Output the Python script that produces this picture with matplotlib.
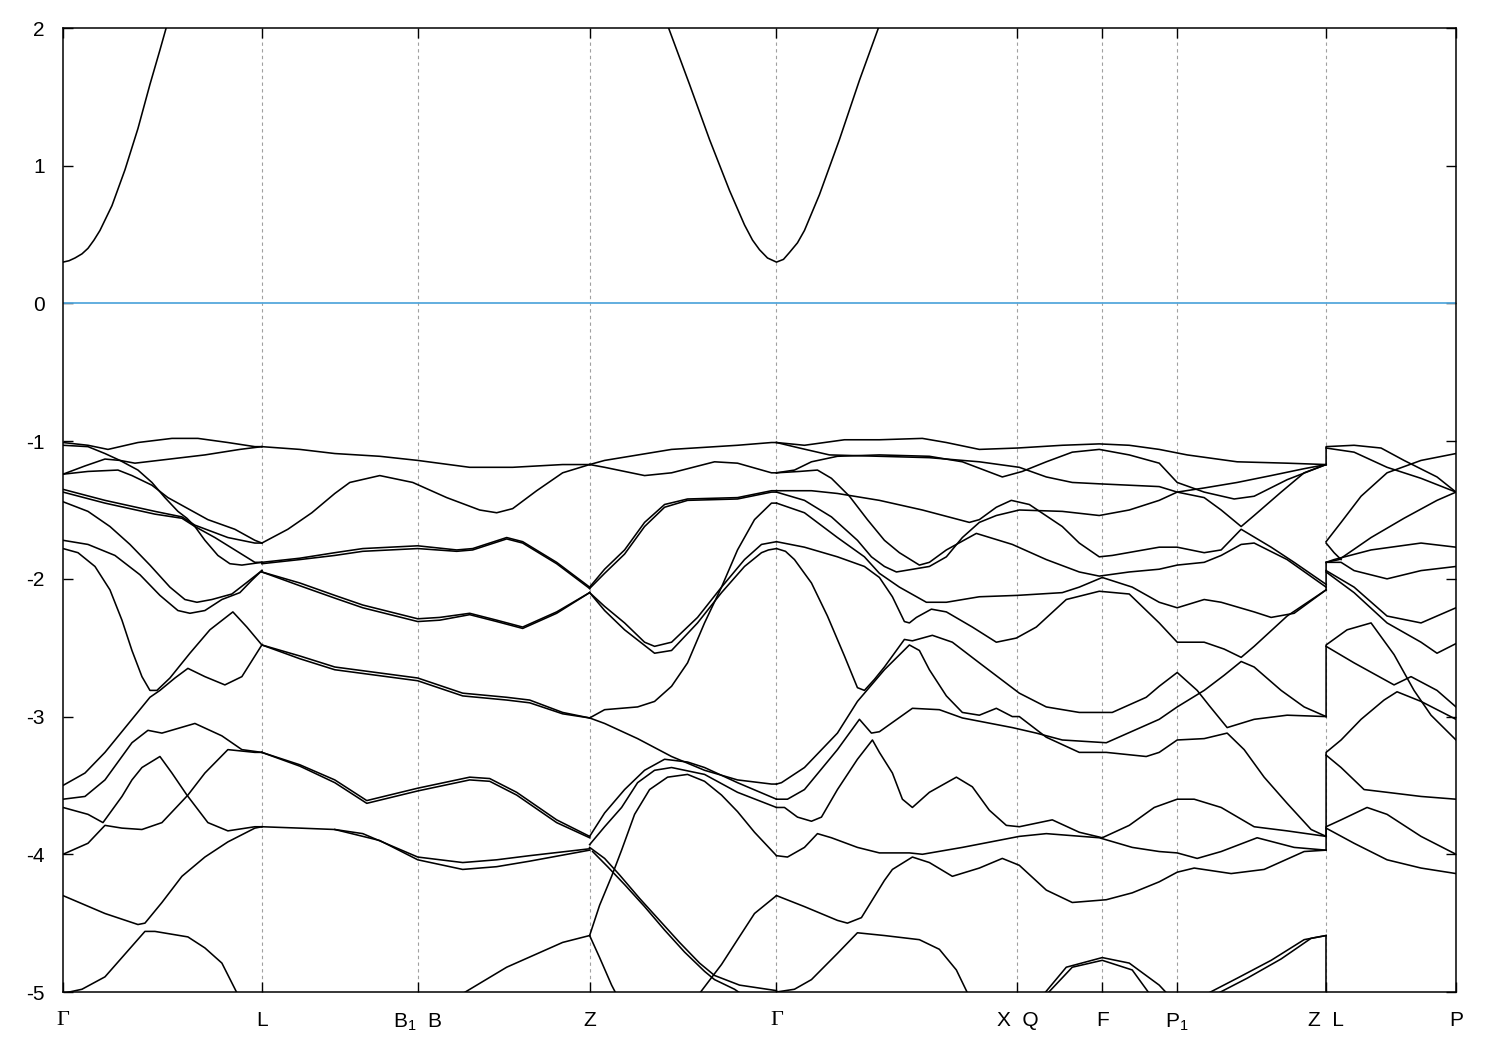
import matplotlib
matplotlib.use("Agg")
import matplotlib.pyplot as plt

plt.rcParams['font.family'] = ['Liberation Sans', 'DejaVu Sans']
plt.rcParams['mathtext.fontset'] = 'custom'
plt.rcParams['mathtext.rm'] = 'Liberation Sans'
plt.rcParams['mathtext.it'] = 'Liberation Sans'

# high symmetry points along the k path
kpoints = [0.0, 1.99, 3.55, 5.27, 7.14, 9.55, 10.40, 11.15, 12.64, 13.94]
klabels = ['Γ', 'L', 'B$_1$  B', 'Z', 'Γ', 'X  Q', 'F', 'P$_1$', 'Z  L', 'P']
yticks = [-5, -4, -3, -2, -1, 0, 1, 2]

# conduction bands (k, E)
conduction = [
    [(0, 0.30), (0.06, 0.31), (0.12, 0.33), (0.19, 0.36), (0.25, 0.40), (0.31, 0.46), (0.37, 0.53),
     (0.49, 0.71), (0.62, 0.97), (0.75, 1.27), (0.87, 1.59), (0.97, 1.84), (1.04, 2.02)],
    [(6.05, 2.02), (6.27, 1.59), (6.47, 1.19), (6.67, 0.82), (6.82, 0.57), (6.90, 0.46),
     (6.97, 0.39), (7.05, 0.33), (7.14, 0.30), (7.21, 0.32), (7.27, 0.37), (7.35, 0.44),
     (7.42, 0.53), (7.57, 0.79), (7.77, 1.19), (7.97, 1.62), (8.17, 2.02)],
]

# valence bands, Gamma -> L
gamma_L = [
    [(0, -1.01), (0.25, -1.03), (0.45, -1.06), (0.75, -1.01), (1.09, -0.98), (1.35, -0.98),
     (1.65, -1.01), (1.92, -1.04), (1.99, -1.04)],
    [(0, -1.03), (0.25, -1.04), (0.42, -1.09), (0.57, -1.14), (0.75, -1.21), (0.89, -1.30),
     (1.02, -1.41), (1.15, -1.51), (1.24, -1.56), (1.32, -1.62), (1.42, -1.72), (1.55, -1.83),
     (1.67, -1.89), (1.79, -1.90), (1.99, -1.88)],
    [(0, -1.24), (0.22, -1.18), (0.42, -1.13), (0.57, -1.14), (0.72, -1.16), (1.07, -1.13),
     (1.42, -1.10), (1.77, -1.06), (1.99, -1.04)],
    [(0, -1.24), (0.25, -1.22), (0.55, -1.21), (0.69, -1.25), (0.89, -1.32), (1.05, -1.41),
     (1.25, -1.49), (1.45, -1.57), (1.72, -1.64), (1.92, -1.72), (1.99, -1.74)],
    [(0, -1.35), (0.42, -1.43), (0.92, -1.51), (1.19, -1.55), (1.32, -1.61), (1.65, -1.70),
     (1.92, -1.74), (1.99, -1.74)],
    [(0, -1.37), (0.42, -1.45), (0.92, -1.53), (1.19, -1.56), (1.32, -1.62), (1.52, -1.70),
     (1.72, -1.79), (1.92, -1.88), (1.99, -1.88)],
    [(0, -1.44), (0.25, -1.51), (0.47, -1.62), (0.67, -1.75), (0.87, -1.90), (1.07, -2.06),
     (1.22, -2.15), (1.34, -2.17), (1.49, -2.15), (1.69, -2.11), (1.85, -2.02), (1.99, -1.94)],
    [(0, -1.72), (0.25, -1.75), (0.52, -1.83), (0.77, -1.97), (0.97, -2.12), (1.15, -2.23),
     (1.27, -2.25), (1.42, -2.23), (1.59, -2.15), (1.77, -2.10), (1.89, -2.01), (1.99, -1.94)],
    [(0, -1.78), (0.15, -1.81), (0.32, -1.91), (0.47, -2.08), (0.59, -2.30), (0.69, -2.52),
     (0.79, -2.71), (0.87, -2.81), (0.94, -2.81), (1.07, -2.72), (1.27, -2.54), (1.47, -2.37),
     (1.70, -2.24), (1.84, -2.35), (1.99, -2.48)],
    [(0, -3.50), (0.22, -3.41), (0.42, -3.26), (0.69, -3.02), (0.87, -2.86), (0.97, -2.81),
     (1.12, -2.72), (1.25, -2.65), (1.42, -2.71), (1.62, -2.77), (1.79, -2.71), (1.99, -2.48)],
    [(0, -3.60), (0.22, -3.58), (0.42, -3.46), (0.69, -3.19), (0.85, -3.10), (0.99, -3.12),
     (1.32, -3.05), (1.59, -3.14), (1.79, -3.24), (1.99, -3.26)],
    [(0, -3.66), (0.25, -3.71), (0.40, -3.77), (0.59, -3.58), (0.69, -3.46), (0.79, -3.37),
     (0.97, -3.29), (1.09, -3.41), (1.24, -3.57), (1.45, -3.77), (1.65, -3.83), (1.92, -3.80),
     (1.99, -3.80)],
    [(0, -4.00), (0.25, -3.92), (0.42, -3.79), (0.59, -3.81), (0.79, -3.82), (0.99, -3.77),
     (1.25, -3.57), (1.42, -3.41), (1.65, -3.24), (1.92, -3.26), (1.99, -3.26)],
    [(0, -4.30), (0.42, -4.43), (0.75, -4.51), (0.82, -4.50), (0.99, -4.35), (1.19, -4.16),
     (1.42, -4.02), (1.65, -3.91), (1.92, -3.81), (1.99, -3.80)],
    [(0, -5.01), (0.19, -4.98), (0.42, -4.89), (0.82, -4.56), (0.92, -4.56), (1.25, -4.60),
     (1.42, -4.68), (1.59, -4.79), (1.75, -5.02)],
]

# L -> B1|B -> Z
L_Z = [
    [(1.99, -1.04), (2.37, -1.06), (2.72, -1.09), (3.17, -1.11), (3.55, -1.14), (4.07, -1.19),
     (4.50, -1.19), (5.00, -1.17), (5.27, -1.17)],
    [(1.99, -1.74), (2.25, -1.64), (2.49, -1.52), (2.72, -1.38), (2.87, -1.30), (3.17, -1.25),
     (3.50, -1.30), (3.84, -1.41), (4.17, -1.50), (4.34, -1.52), (4.50, -1.49), (4.74, -1.36),
     (5.00, -1.23), (5.27, -1.17)],
    [(1.99, -1.88), (2.37, -1.85), (2.72, -1.81), (3.00, -1.78), (3.55, -1.76), (3.94, -1.79),
     (4.10, -1.78), (4.44, -1.70), (4.60, -1.73), (4.94, -1.88), (5.27, -2.06)],
    [(1.99, -1.89), (2.37, -1.86), (2.72, -1.83), (3.00, -1.80), (3.55, -1.78), (3.94, -1.80),
     (4.10, -1.79), (4.44, -1.71), (4.60, -1.74), (4.94, -1.89), (5.27, -2.07)],
    [(1.99, -1.95), (2.37, -2.03), (2.72, -2.12), (3.00, -2.19), (3.55, -2.29), (3.77, -2.28),
     (4.07, -2.25), (4.34, -2.30), (4.60, -2.35), (4.94, -2.24), (5.27, -2.10)],
    [(1.99, -1.95), (2.37, -2.05), (2.72, -2.14), (3.00, -2.21), (3.55, -2.31), (3.77, -2.30),
     (4.07, -2.26), (4.34, -2.31), (4.60, -2.36), (4.94, -2.25), (5.27, -2.10)],
    [(1.99, -2.48), (2.37, -2.56), (2.72, -2.64), (3.55, -2.72), (4.00, -2.83), (4.44, -2.86),
     (4.67, -2.88), (5.00, -2.97), (5.27, -3.01)],
    [(1.99, -2.48), (2.37, -2.58), (2.72, -2.66), (3.55, -2.74), (4.00, -2.85), (4.44, -2.88),
     (4.67, -2.90), (5.00, -2.98), (5.27, -3.01)],
    [(1.99, -3.26), (2.37, -3.35), (2.72, -3.46), (3.04, -3.61), (3.55, -3.52), (4.07, -3.44),
     (4.27, -3.45), (4.54, -3.55), (4.94, -3.75), (5.27, -3.87)],
    [(1.99, -3.26), (2.37, -3.36), (2.72, -3.48), (3.04, -3.63), (3.55, -3.54), (4.07, -3.46),
     (4.27, -3.47), (4.54, -3.57), (4.94, -3.77), (5.27, -3.88)],
    [(1.99, -3.80), (2.37, -3.81), (2.72, -3.82), (3.00, -3.85), (3.55, -4.02), (4.00, -4.06),
     (4.34, -4.04), (4.67, -4.01), (5.27, -3.96)],
    [(2.72, -3.82), (3.17, -3.90), (3.55, -4.04), (4.00, -4.11), (4.34, -4.09), (4.67, -4.05),
     (5.27, -3.97)],
    [(3.98, -5.02), (4.44, -4.82), (5.00, -4.64), (5.27, -4.59)],
]

# Z -> Gamma
Z_gamma = [
    [(5.27, -1.17), (5.42, -1.14), (6.09, -1.06), (6.75, -1.03), (7.09, -1.01), (7.14, -1.01)],
    [(5.27, -1.17), (5.42, -1.19), (5.82, -1.25), (6.09, -1.23), (6.52, -1.15), (6.75, -1.16),
     (7.09, -1.23), (7.14, -1.23)],
    [(5.27, -2.06), (5.42, -1.93), (5.62, -1.79), (5.82, -1.59), (6.02, -1.46), (6.25, -1.42),
     (6.75, -1.41), (7.09, -1.36), (7.14, -1.36)],
    [(5.27, -2.07), (5.42, -1.96), (5.62, -1.82), (5.82, -1.62), (6.02, -1.48), (6.25, -1.43),
     (6.75, -1.42), (7.09, -1.37), (7.14, -1.37)],
    [(5.27, -2.10), (5.42, -2.20), (5.62, -2.32), (5.82, -2.46), (5.92, -2.49), (6.09, -2.46),
     (6.35, -2.28), (6.59, -2.06), (6.82, -1.86), (6.99, -1.75), (7.14, -1.73)],
    [(5.27, -2.10), (5.42, -2.23), (5.62, -2.37), (5.92, -2.54), (6.09, -2.52), (6.35, -2.32),
     (6.59, -2.10), (6.82, -1.91), (6.99, -1.81), (7.06, -1.79), (7.14, -1.78)],
    [(5.27, -3.01), (5.42, -2.95), (5.75, -2.93), (5.92, -2.89), (6.09, -2.78), (6.25, -2.61),
     (6.42, -2.32), (6.59, -2.06), (6.75, -1.79), (6.92, -1.57), (7.09, -1.45), (7.14, -1.45)],
    [(5.27, -3.01), (5.42, -3.05), (5.75, -3.16), (6.09, -3.29), (6.42, -3.39), (6.75, -3.46),
     (7.09, -3.49), (7.14, -3.49)],
    [(5.27, -3.87), (5.42, -3.70), (5.62, -3.53), (5.82, -3.39), (6.02, -3.31), (6.25, -3.33),
     (6.42, -3.37), (6.75, -3.48), (7.14, -3.60)],
    [(5.27, -3.93), (5.42, -3.80), (5.59, -3.66), (5.75, -3.48), (5.92, -3.39), (6.09, -3.37),
     (6.42, -3.42), (6.75, -3.55), (7.14, -3.66)],
    [(5.27, -4.59), (5.37, -4.37), (5.49, -4.16), (5.59, -3.97), (5.72, -3.71), (5.87, -3.53),
     (6.05, -3.44), (6.25, -3.42), (6.42, -3.47), (6.59, -3.57), (6.75, -3.69), (6.92, -3.84),
     (7.14, -4.01)],
    [(5.27, -4.59), (5.37, -4.75), (5.49, -4.95), (5.54, -5.02)],
    [(5.27, -3.95), (5.42, -4.03), (5.57, -4.15), (5.77, -4.32), (5.97, -4.48), (6.17, -4.64),
     (6.37, -4.79), (6.52, -4.88), (6.77, -4.95), (7.14, -4.99)],
    [(5.30, -3.98), (5.45, -4.09), (5.62, -4.22), (5.82, -4.38), (6.02, -4.55), (6.22, -4.71),
     (6.42, -4.85), (6.52, -4.91), (6.72, -4.98), (6.80, -5.02)],
    [(6.36, -5.02), (6.59, -4.80), (6.75, -4.62), (6.92, -4.43), (7.14, -4.30)],
]

# Gamma -> X|Q -> F -> P1 -> Z
gamma_Z = [
    [(7.14, -1.01), (7.42, -1.03), (7.82, -0.99), (8.17, -0.99), (8.60, -0.98), (8.84, -1.01),
     (9.17, -1.06), (9.55, -1.05), (10.00, -1.03), (10.37, -1.02), (10.67, -1.03), (10.97, -1.06),
     (11.25, -1.10), (11.75, -1.15), (12.25, -1.16), (12.64, -1.17)],
    [(7.14, -1.01), (7.37, -1.05), (7.67, -1.10), (8.17, -1.11), (8.67, -1.12), (9.17, -1.15),
     (9.57, -1.19), (9.84, -1.26), (10.10, -1.30), (10.37, -1.31), (10.97, -1.33), (11.15, -1.37),
     (11.42, -1.34), (11.75, -1.30), (12.09, -1.25), (12.42, -1.20), (12.64, -1.17)],
    [(7.14, -1.23), (7.32, -1.21), (7.49, -1.15), (7.75, -1.11), (8.17, -1.10), (8.67, -1.11),
     (9.00, -1.15), (9.40, -1.26), (9.60, -1.22), (9.84, -1.15), (10.10, -1.08), (10.37, -1.06),
     (10.67, -1.10), (10.97, -1.16), (11.15, -1.30), (11.42, -1.37), (11.72, -1.42), (11.92, -1.40),
     (12.25, -1.28), (12.64, -1.17)],
    [(7.14, -1.23), (7.37, -1.22), (7.55, -1.21), (7.69, -1.27), (7.87, -1.40), (8.05, -1.57),
     (8.22, -1.72), (8.37, -1.81), (8.57, -1.90), (8.67, -1.88), (8.84, -1.79), (9.14, -1.67),
     (9.50, -1.75), (9.84, -1.86), (10.17, -1.95), (10.37, -1.98), (10.67, -1.95), (10.97, -1.93),
     (11.15, -1.90), (11.42, -1.88), (11.59, -1.83), (11.79, -1.75), (11.92, -1.74), (12.25, -1.86),
     (12.64, -2.06)],
    [(7.14, -1.36), (7.49, -1.36), (7.75, -1.38), (8.17, -1.43), (8.60, -1.50), (9.07, -1.59),
     (9.17, -1.57), (9.34, -1.48), (9.49, -1.43), (9.67, -1.46), (10.00, -1.62), (10.17, -1.74),
     (10.37, -1.84), (10.50, -1.83), (10.97, -1.77), (11.15, -1.77), (11.42, -1.81), (11.59, -1.79),
     (11.79, -1.64), (12.09, -1.77), (12.32, -1.88), (12.64, -2.04)],
    [(7.14, -1.37), (7.42, -1.43), (7.69, -1.55), (7.95, -1.72), (8.09, -1.84), (8.22, -1.91),
     (8.34, -1.95), (8.67, -1.91), (8.84, -1.84), (9.00, -1.70), (9.17, -1.59), (9.34, -1.54),
     (9.57, -1.50), (10.00, -1.51), (10.37, -1.54), (10.67, -1.50), (10.97, -1.43), (11.15, -1.37),
     (11.42, -1.41), (11.59, -1.50), (11.79, -1.62), (11.92, -1.54), (12.19, -1.37), (12.42, -1.23),
     (12.64, -1.17)],
    [(7.14, -1.45), (7.42, -1.52), (7.75, -1.70), (8.02, -1.84), (8.17, -1.96), (8.37, -2.06),
     (8.64, -2.17), (8.84, -2.17), (9.17, -2.13), (9.55, -2.12), (10.00, -2.10), (10.17, -2.06),
     (10.40, -1.99), (10.70, -2.06), (10.97, -2.17), (11.15, -2.21), (11.42, -2.15), (11.59, -2.17),
     (11.92, -2.24), (12.09, -2.28), (12.32, -2.25), (12.64, -2.08)],
    [(7.14, -1.73), (7.42, -1.77), (7.75, -1.84), (8.02, -1.91), (8.17, -1.99), (8.30, -2.13),
     (8.42, -2.31), (8.47, -2.32), (8.54, -2.28), (8.69, -2.22), (8.84, -2.24), (9.10, -2.35),
     (9.34, -2.46), (9.54, -2.43), (9.74, -2.35), (10.04, -2.15), (10.37, -2.09), (10.67, -2.11),
     (10.97, -2.32), (11.15, -2.46), (11.42, -2.46), (11.62, -2.51), (11.79, -2.57), (11.92, -2.49),
     (12.25, -2.27), (12.64, -2.08)],
    [(7.14, -1.78), (7.23, -1.80), (7.32, -1.86), (7.49, -2.03), (7.65, -2.27), (7.82, -2.56),
     (7.95, -2.79), (8.02, -2.81), (8.12, -2.73), (8.22, -2.64), (8.42, -2.44), (8.50, -2.45),
     (8.70, -2.41), (8.90, -2.46), (9.17, -2.61), (9.57, -2.83), (9.84, -2.93), (10.17, -2.97),
     (10.50, -2.97), (10.84, -2.86), (10.97, -2.78), (11.15, -2.68), (11.35, -2.81), (11.47, -2.92),
     (11.65, -3.08), (11.92, -3.02), (12.25, -2.99), (12.64, -3.00)],
    [(7.14, -3.49), (7.19, -3.48), (7.42, -3.37), (7.75, -3.12), (7.95, -2.89), (8.22, -2.66),
     (8.47, -2.48), (8.57, -2.52), (8.67, -2.66), (8.84, -2.85), (9.00, -2.97), (9.17, -2.99),
     (9.34, -2.94), (9.50, -3.00), (9.57, -3.00), (9.84, -3.15), (10.17, -3.26), (10.44, -3.26),
     (10.84, -3.29), (10.97, -3.26), (11.15, -3.17), (11.42, -3.16), (11.65, -3.12), (11.82, -3.24),
     (12.02, -3.44), (12.25, -3.63), (12.49, -3.82), (12.64, -3.87)],
    [(7.14, -3.60), (7.25, -3.60), (7.42, -3.53), (7.75, -3.24), (7.97, -3.02), (8.09, -3.12),
     (8.17, -3.11), (8.50, -2.94), (8.77, -2.95), (9.00, -3.01), (9.50, -3.08), (9.74, -3.12),
     (10.00, -3.17), (10.44, -3.19), (10.97, -3.02), (11.15, -2.93), (11.42, -2.81), (11.62, -2.70),
     (11.79, -2.60), (11.92, -2.64), (12.19, -2.81), (12.42, -2.93), (12.64, -3.00)],
    [(7.14, -3.66), (7.22, -3.66), (7.35, -3.73), (7.49, -3.76), (7.59, -3.73), (7.75, -3.53),
     (7.95, -3.31), (8.10, -3.17), (8.17, -3.26), (8.30, -3.41), (8.40, -3.60), (8.50, -3.66),
     (8.67, -3.55), (8.94, -3.44), (9.10, -3.51), (9.27, -3.68), (9.44, -3.79), (9.57, -3.80),
     (9.90, -3.75), (10.17, -3.84), (10.40, -3.88), (10.67, -3.79), (10.92, -3.66), (11.15, -3.60),
     (11.32, -3.60), (11.59, -3.66), (11.92, -3.80), (12.25, -3.83), (12.64, -3.87)],
    [(7.14, -4.01), (7.25, -4.02), (7.42, -3.95), (7.55, -3.85), (7.69, -3.88), (7.95, -3.95),
     (8.17, -3.99), (8.47, -3.99), (8.60, -4.00), (9.00, -3.95), (9.57, -3.87), (9.84, -3.85),
     (10.37, -3.88), (10.70, -3.95), (10.97, -3.98), (11.15, -3.99), (11.35, -4.03), (11.59, -3.98),
     (11.95, -3.88), (12.32, -3.95), (12.64, -3.97)],
    [(7.14, -4.30), (7.42, -4.38), (7.75, -4.48), (7.85, -4.50), (7.99, -4.46), (8.22, -4.19),
     (8.30, -4.11), (8.50, -4.02), (8.67, -4.06), (8.90, -4.16), (9.17, -4.10), (9.40, -4.03),
     (9.57, -4.08), (9.84, -4.26), (10.10, -4.35), (10.44, -4.33), (10.70, -4.28), (10.97, -4.20),
     (11.15, -4.13), (11.32, -4.10), (11.69, -4.14), (12.02, -4.11), (12.42, -3.98), (12.64, -3.97)],
    [(7.14, -5.00), (7.32, -4.98), (7.49, -4.91), (7.75, -4.72), (7.95, -4.57), (8.22, -4.59),
     (8.57, -4.62), (8.77, -4.69), (8.94, -4.84), (9.06, -5.02)],
    [(9.81, -5.02), (10.04, -4.82), (10.40, -4.75), (10.67, -4.79), (10.97, -4.95), (11.06, -5.02)],
    [(9.84, -5.02), (10.10, -4.82), (10.40, -4.77), (10.70, -4.84), (10.88, -5.02)],
    [(11.43, -5.02), (11.75, -4.90), (12.09, -4.77), (12.42, -4.62), (12.64, -4.59)],
    [(11.53, -5.02), (11.85, -4.90), (12.19, -4.76), (12.49, -4.61), (12.64, -4.59)],
]

# L -> P (first points at Z|L give the jumps)
L_P = [
    [(12.64, -1.17), (12.64, -1.04), (12.92, -1.03), (13.19, -1.05), (13.42, -1.14), (13.75, -1.26),
     (13.94, -1.37)],
    [(12.64, -1.05), (12.92, -1.08), (13.25, -1.19), (13.59, -1.27), (13.94, -1.37)],
    [(12.64, -1.73), (12.79, -1.59), (12.99, -1.40), (13.25, -1.23), (13.59, -1.14), (13.94, -1.09)],
    [(12.64, -1.74), (12.72, -1.81), (12.79, -1.86)],
    [(12.64, -1.88), (12.77, -1.86), (13.09, -1.70), (13.42, -1.56), (13.75, -1.43), (13.94, -1.37)],
    [(12.64, -1.88), (12.72, -1.86), (13.09, -1.79), (13.59, -1.74), (13.94, -1.77)],
    [(12.64, -2.08), (12.64, -1.88), (12.79, -1.88), (12.92, -1.94), (13.25, -2.00), (13.59, -1.94),
     (13.94, -1.91)],
    [(12.64, -1.94), (12.92, -2.06), (13.25, -2.27), (13.59, -2.32), (13.94, -2.21)],
    [(12.64, -1.95), (12.92, -2.10), (13.25, -2.32), (13.59, -2.46), (13.75, -2.54), (13.94, -2.47)],
    [(12.64, -3.00), (12.64, -2.48), (12.85, -2.37), (13.09, -2.32), (13.32, -2.55), (13.52, -2.81),
     (13.69, -2.99), (13.94, -3.17)],
    [(12.64, -2.49), (12.92, -2.61), (13.17, -2.71), (13.32, -2.77), (13.49, -2.71), (13.75, -2.81),
     (13.94, -2.93)],
    [(12.64, -3.87), (12.64, -3.26), (12.79, -3.17), (12.99, -3.02), (13.22, -2.88), (13.35, -2.82),
     (13.59, -2.89), (13.94, -3.02)],
    [(12.64, -3.28), (12.79, -3.37), (13.02, -3.53), (13.25, -3.55), (13.59, -3.58), (13.94, -3.60)],
    [(12.64, -3.97), (12.64, -3.80), (12.79, -3.75), (13.05, -3.66), (13.25, -3.71), (13.59, -3.87),
     (13.94, -4.00)],
    [(12.64, -3.81), (12.92, -3.92), (13.25, -4.04), (13.59, -4.10), (13.94, -4.14)],
    [(12.64, -4.59), (12.64, -5.02)],
]

fig = plt.figure(figsize=(15, 10.5), dpi=100)
ax = fig.add_axes([63 / 1500, 1 - 992 / 1050, 1393 / 1500, 964 / 1050])

# dashed vertical lines at the inner high symmetry points
for k in kpoints[1:-1]:
    ax.axvline(k, color='#a0a0a0', lw=0.8, ls=(0, (3, 3)), zorder=1)

# fermi level
ax.axhline(0, color='#56a8dc', lw=1.3, zorder=2)

for group in [conduction, gamma_L, L_Z, Z_gamma, gamma_Z, L_P]:
    for band in group:
        k, e = zip(*band)
        ax.plot(k, e, color='black', lw=1.15, zorder=3)

ax.set_xlim(kpoints[0], kpoints[-1])
ax.set_ylim(-5, 2)
ax.set_xticks(kpoints)
ax.set_xticklabels(klabels)
ax.set_yticks(yticks)
ax.set_yticklabels([str(v) for v in yticks])
ax.tick_params(axis='both', direction='in', length=7, width=1.0, labelsize=15,
               top=True, right=True)
ax.tick_params(axis='x', pad=14)
ax.tick_params(axis='y', pad=13)
for lab in ax.get_xticklabels():
    if lab.get_text() == 'Γ':
        lab.set_fontfamily(['Liberation Serif', 'DejaVu Serif'])
        lab.set_fontsize(16)
for s in ax.spines.values():
    s.set_linewidth(1.1)

fig.savefig('out.png', dpi=100)
